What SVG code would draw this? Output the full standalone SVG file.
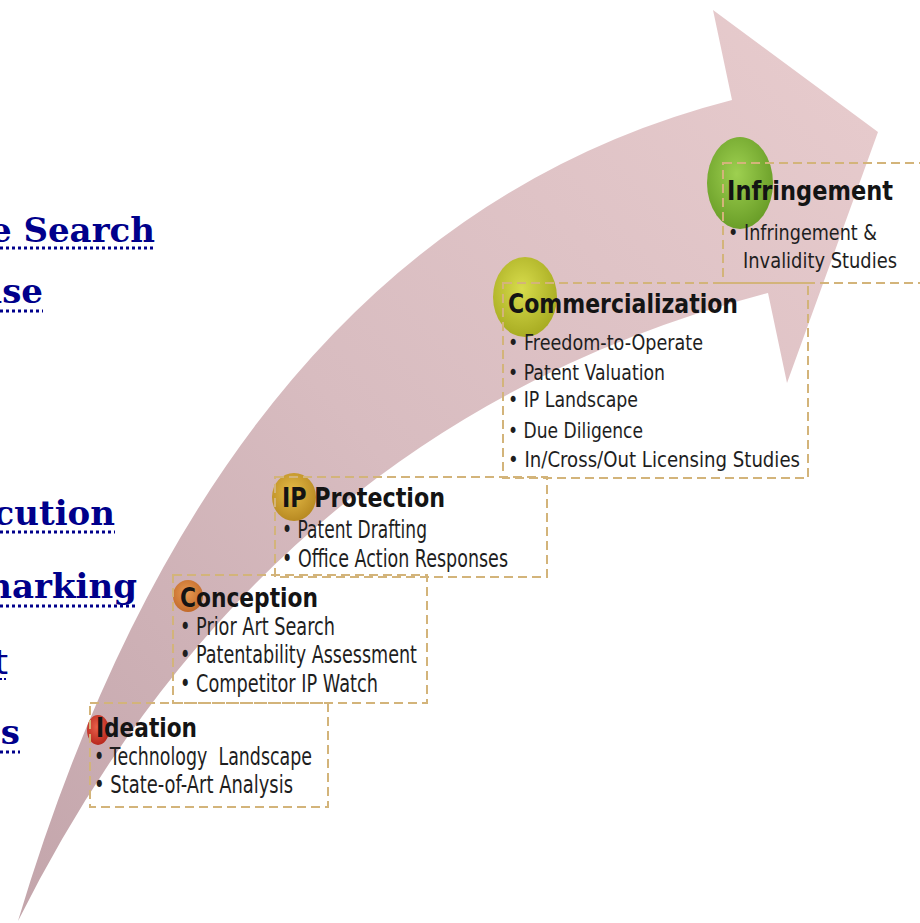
<svg xmlns="http://www.w3.org/2000/svg" width="920" height="923" viewBox="0 0 920 923">
<defs>
<linearGradient id="arrowGrad" gradientUnits="userSpaceOnUse" x1="18" y1="921" x2="878" y2="132">
<stop offset="0" stop-color="#c3a5ab"/>
<stop offset="0.5" stop-color="#d8bcc0"/>
<stop offset="1" stop-color="#e6cacc"/>
</linearGradient>
<radialGradient id="gRed" cx="0.45" cy="0.4" r="0.6"><stop offset="0" stop-color="#e8604a"/><stop offset="1" stop-color="#b8281e"/></radialGradient>
<radialGradient id="gOrange" cx="0.45" cy="0.4" r="0.6"><stop offset="0" stop-color="#e89a52"/><stop offset="1" stop-color="#c26a2a"/></radialGradient>
<radialGradient id="gGold" cx="0.45" cy="0.4" r="0.6"><stop offset="0" stop-color="#e6bc48"/><stop offset="1" stop-color="#b88a22"/></radialGradient>
<radialGradient id="gYellow" cx="0.45" cy="0.4" r="0.6"><stop offset="0" stop-color="#d8dc4c"/><stop offset="1" stop-color="#a8ac22"/></radialGradient>
<radialGradient id="gGreen" cx="0.45" cy="0.4" r="0.6"><stop offset="0" stop-color="#9ed050"/><stop offset="1" stop-color="#6a9e28"/></radialGradient>
</defs>
<style>
.box{fill:none;stroke:#d3b47a;stroke-width:2;stroke-dasharray:9 5}
.title{font-family:"DejaVu Sans","Liberation Sans",sans-serif;font-weight:bold;font-size:27px;fill:#141414}
.item{font-family:"DejaVu Sans","Liberation Sans",sans-serif;font-size:24px;fill:#1e1e1e}
.item.sm{font-size:21px}
.link{font-family:"DejaVu Serif","Liberation Serif",serif;font-weight:bold;font-size:34px;fill:#00008b}
.linkthin{font-family:"DejaVu Sans","Liberation Sans",sans-serif;font-size:34px;fill:#00008b}
.ul{stroke:#00008b;stroke-width:3;stroke-dasharray:3 3}
</style>
<rect width="920" height="923" fill="#ffffff"/>
<g id="arrow">
<path d="M18,921 Q225,230 732,100 L713,10 L878,132 L787,383 L768,293 Q267,423 18,921 Z" fill="url(#arrowGrad)"/>
</g>
<g id="left-links">
<text class="link" x="155" y="242" text-anchor="end">e Search</text>
<line class="ul" x1="0" y1="248" x2="155" y2="248"/>
<text class="link" x="43" y="303" text-anchor="end">ise</text>
<line class="ul" x1="0" y1="311" x2="43" y2="311"/>
<text class="link" x="115" y="525" text-anchor="end">cution</text>
<line class="ul" x1="0" y1="532" x2="115" y2="532"/>
<text class="link" x="137" y="598" text-anchor="end">narking</text>
<line class="ul" x1="0" y1="606" x2="137" y2="606"/>
<text class="linkthin" x="8" y="674" text-anchor="end">t</text>
<line class="ul" x1="0" y1="679" x2="8" y2="679" style="stroke-width:2;stroke-dasharray:2 2"/>
<text class="link" x="20" y="744" text-anchor="end">s</text>
<line class="ul" x1="0" y1="752" x2="20" y2="752"/>
</g>
<g id="node-ideation">
<ellipse cx="98" cy="730" rx="11" ry="15" fill="url(#gRed)"/>
<rect class="box" x="90" y="703" width="238" height="104"/>
<text class="title" x="96" y="737" textLength="101" lengthAdjust="spacingAndGlyphs">Ideation</text>
<text class="item" x="94" y="765" textLength="218" lengthAdjust="spacingAndGlyphs" xml:space="preserve">• Technology  Landscape</text>
<text class="item" x="94" y="793" textLength="199" lengthAdjust="spacingAndGlyphs">• State-of-Art Analysis</text>
</g>
<g id="node-conception">
<ellipse cx="188" cy="596" rx="15" ry="16" fill="url(#gOrange)"/>
<rect class="box" x="173" y="575" width="254" height="128"/>
<text class="title" x="180" y="607" textLength="138" lengthAdjust="spacingAndGlyphs">Conception</text>
<text class="item" x="180" y="635" textLength="155" lengthAdjust="spacingAndGlyphs">• Prior Art Search</text>
<text class="item" x="180" y="663" textLength="237" lengthAdjust="spacingAndGlyphs">• Patentability Assessment</text>
<text class="item" x="180" y="692" textLength="198" lengthAdjust="spacingAndGlyphs">• Competitor IP Watch</text>
</g>
<g id="node-ip-protection">
<ellipse cx="294" cy="497" rx="22" ry="24" fill="url(#gGold)"/>
<rect class="box" x="275" y="477" width="272" height="100"/>
<text class="title" x="282" y="507" textLength="163" lengthAdjust="spacingAndGlyphs">IP Protection</text>
<text class="item" x="282" y="538" textLength="145" lengthAdjust="spacingAndGlyphs">• Patent Drafting</text>
<text class="item" x="282" y="567" textLength="226" lengthAdjust="spacingAndGlyphs">• Office Action Responses</text>
</g>
<g id="node-commercialization">
<ellipse cx="525" cy="297" rx="32" ry="40" fill="url(#gYellow)"/>
<rect class="box" x="503" y="283" width="305" height="195"/>
<text class="title" x="508" y="313" textLength="230" lengthAdjust="spacingAndGlyphs">Commercialization</text>
<text class="item sm" x="508" y="350" textLength="195" lengthAdjust="spacingAndGlyphs">• Freedom-to-Operate</text>
<text class="item sm" x="508" y="380" textLength="157" lengthAdjust="spacingAndGlyphs">• Patent Valuation</text>
<text class="item sm" x="508" y="407" textLength="130" lengthAdjust="spacingAndGlyphs">• IP Landscape</text>
<text class="item sm" x="508" y="438" textLength="135" lengthAdjust="spacingAndGlyphs">• Due Diligence</text>
<text class="item sm" x="508" y="467" textLength="292" lengthAdjust="spacingAndGlyphs">• In/Cross/Out Licensing Studies</text>
</g>
<g id="node-infringement">
<ellipse cx="740" cy="183" rx="33" ry="46" fill="url(#gGreen)"/>
<rect class="box" x="723" y="163" width="210" height="120"/>
<text class="title" x="727" y="200" textLength="166" lengthAdjust="spacingAndGlyphs">Infringement</text>
<text class="item sm" x="728" y="240" textLength="149" lengthAdjust="spacingAndGlyphs">• Infringement &amp;</text>
<text class="item sm" x="743" y="268" textLength="154" lengthAdjust="spacingAndGlyphs">Invalidity Studies</text>
</g>
</svg>
